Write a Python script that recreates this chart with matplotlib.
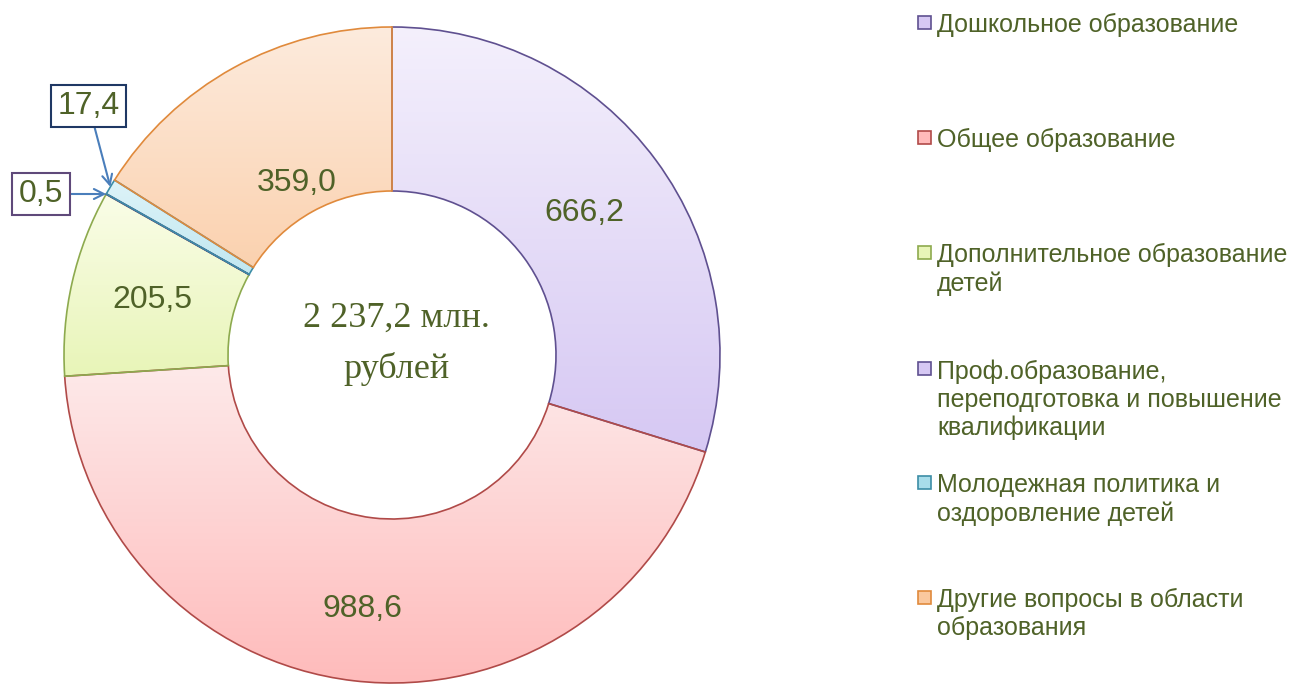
import numpy as np
import matplotlib
matplotlib.use("Agg")
import matplotlib.pyplot as plt
from matplotlib.colors import LinearSegmentedColormap
from matplotlib.patches import Rectangle

# ---- data ----
categories = [
    "Дошкольное образование",
    "Общее образование",
    "Дополнительное образование\nдетей",
    "Проф.образование,\nпереподготовка и повышение\nквалификации",
    "Молодежная политика и\nоздоровление детей",
    "Другие вопросы в области\nобразования",
]
values = [666.2, 988.6, 205.5, 0.5, 17.4, 359.0]
value_labels = ["666,2", "988,6", "205,5", "0,5", "17,4", "359,0"]
total_label = "2 237,2 млн.\nрублей"

# ---- styles ----
light = ["#F4F0FC", "#FDEBEB", "#FAFDE8", "#F4F0FC", "#DDF3F8", "#FDEBDD"]
dark = ["#D6C8F3", "#FFBABA", "#E8F5B8", "#D6C8F3", "#A8DDEA", "#FAC89E"]
edges = ["#5F5090", "#B04A48", "#8DAA4E", "#5F5090", "#3C8DA6", "#E08A3C"]
txt_color = "#4F6228"

W, H = 1316, 684
fig = plt.figure(figsize=(W / 100, H / 100), dpi=100)
cx, cy, R = 392, 355, 328
ax = fig.add_axes([(cx - R) / W, (H - cy - R) / H, 2 * R / W, 2 * R / H])

wedges, _ = ax.pie(values, startangle=90, counterclock=False, radius=1,
                   wedgeprops=dict(width=0.5, linewidth=1.2))
for i, w in enumerate(wedges):
    w.set_facecolor("none")
    w.set_edgecolor(edges[i])
    w.set_zorder(3)
    verts = w.get_path().vertices
    x0, y0 = verts.min(axis=0)
    x1, y1 = verts.max(axis=0)
    cmap = LinearSegmentedColormap.from_list("g%d" % i, [dark[i], light[i]])
    grad = np.linspace(0, 1, 256).reshape(-1, 1)
    im = ax.imshow(grad, cmap=cmap, extent=[x0, x1, y0, y1], origin="lower",
                   aspect="auto", zorder=2, interpolation="bilinear")
    im.set_clip_path(w)

ax.set_xlim(-1, 1)
ax.set_ylim(-1, 1)
ax.set_aspect("equal")
ax.axis("off")

# value labels inside the ring
total = sum(values)
label_r = [0.73, 0.78, 0.75, None, None, 0.60]
cum = 0
mids = []
for i, v in enumerate(values):
    mid = np.deg2rad(90 - (cum + v / 2) / total * 360)
    mids.append(mid)
    cum += v
    if label_r[i] is not None:
        ax.text(label_r[i] * np.cos(mid), label_r[i] * np.sin(mid), value_labels[i],
                ha="center", va="center", fontsize=23, color=txt_color,
                family="Liberation Sans", zorder=5)

# callouts for tiny slices
box_edges = {3: "#5F497A", 4: "#1F3864"}
box_pos = {3: (-1.07, 0.491), 4: (-0.924, 0.759)}
for i in (3, 4):
    ax.annotate(value_labels[i], xy=(np.cos(mids[i]), np.sin(mids[i])),
                xytext=box_pos[i], ha="center", va="center", fontsize=23,
                color=txt_color, family="Liberation Sans", zorder=6,
                bbox=dict(boxstyle="square,pad=0.2", fc="white", ec=box_edges[i], lw=1.5),
                arrowprops=dict(arrowstyle="->", color="#4A7EBB", lw=1.5,
                                mutation_scale=18, shrinkA=0, shrinkB=0),
                annotation_clip=False)

# center text
ax.text((396 - cx) / R, (cy - 344) / R, total_label, ha="center", va="center",
        fontsize=26, color=txt_color, family="Liberation Serif", linespacing=1.65)

# legend (manual)
leg_y = [22, 137, 252, 368, 482, 597]
for i, lab in enumerate(categories):
    y = leg_y[i]
    fig.patches.append(Rectangle(((918) / W, (H - y - 6.5) / H), 13 / W, 13 / H,
                                 transform=fig.transFigure, facecolor=dark[i],
                                 edgecolor=edges[i], lw=1.2))
    fig.text(937 / W, (H - y + 9) / H, lab, ha="left", va="top", fontsize=18,
             color=txt_color, family="Liberation Sans", linespacing=1.22)

fig.savefig("out.png", dpi=100)
